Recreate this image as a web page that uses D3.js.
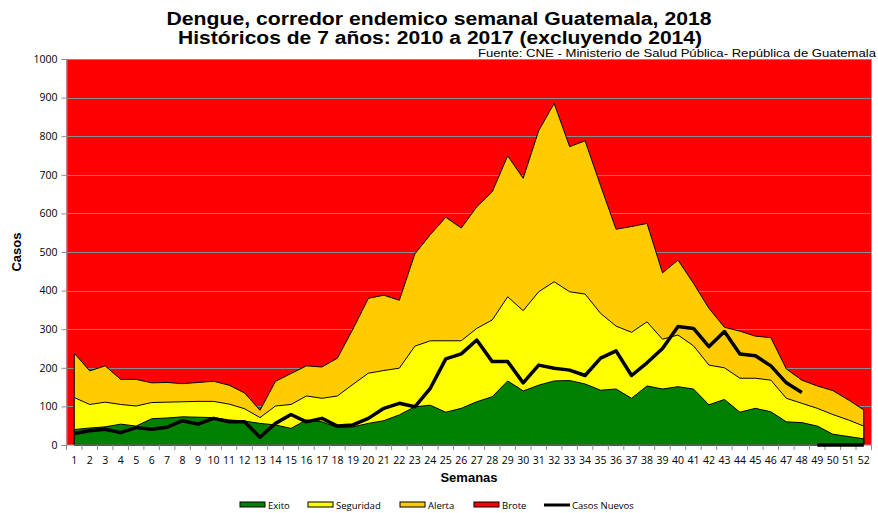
<!DOCTYPE html>
<html>
<head>
<meta charset="utf-8">
<script src="https://cdn.jsdelivr.net/npm/d3@7"></script>
<style>
  body { margin: 0; background: #fff; }
  svg { display: block; font-family: "Liberation Sans", Arial, sans-serif; }
  .tick text { font-family: "Open Sans", "Liberation Sans", sans-serif; }
</style>
</head>
<body>
<svg id="chart" width="878" height="513"></svg>
<script>
var weeks = d3.range(1, 53);

// umbrales del corredor endemico (casos)
var exito = [40,44,47,54,49,68,70,73,72,71,65,62,56,52,43,65,60,45,47,56,
  63,78,99,103,85,95,112,125,166,140,155,166,167,158,142,145,121,153,145,151,
  145,104,118,85,95,86,60,58,49,28,22,16];
var seguridad = [123,105,111,105,101,110,111,112,113,113,106,94,71,101,105,127,121,127,157,186,
  193,199,256,270,270,270,302,324,384,348,397,423,397,391,341,308,292,319,274,285,
  257,207,200,173,173,168,121,108,95,79,65,49];
var alerta = [238,192,205,170,170,161,162,159,162,165,155,135,90,165,185,205,202,225,300,380,
  388,375,495,545,590,562,617,656,749,691,814,885,773,788,672,559,566,574,446,479,
  419,354,305,295,282,278,197,168,153,141,117,91];
var brote = 1000;

// casos nuevos 2018
var casosNuevos = [30,37,41,32,45,41,46,63,54,69,60,60,20,56,79,60,69,49,52,69,
  95,108,99,147,223,236,272,216,216,161,207,199,194,180,225,244,180,213,250,307,
  302,255,294,236,231,205,161,136,0,0,0,0];

var yTicks = d3.range(0, 1001, 100);

var svg = d3.select('#chart');
var margin = {left: 66.5, right: 6.5, top: 59, bottom: 68};
var W = 878, H = 513;

var x = d3.scaleBand()
  .domain(weeks)
  .range([margin.left, W - margin.right]);
var cx = d => x(d) + x.bandwidth() / 2;

var y = d3.scaleLinear()
  .domain([0, 1000])
  .range([H - margin.bottom, margin.top]);

// titulo
svg.append('text')
  .attr('x', 439).attr('y', 25)
  .attr('text-anchor', 'middle')
  .attr('textLength', 545).attr('lengthAdjust', 'spacingAndGlyphs')
  .style('font-weight', 'bold').style('font-size', '18px')
  .text('Dengue, corredor endemico semanal Guatemala, 2018');
svg.append('text')
  .attr('x', 440).attr('y', 44)
  .attr('text-anchor', 'middle')
  .attr('textLength', 524).attr('lengthAdjust', 'spacingAndGlyphs')
  .style('font-weight', 'bold').style('font-size', '18px')
  .text('Históricos  de 7 años: 2010 a 2017 (excluyendo 2014)');
svg.append('text')
  .attr('x', 876).attr('y', 57)
  .attr('text-anchor', 'end')
  .attr('textLength', 398).attr('lengthAdjust', 'spacingAndGlyphs')
  .style('font-size', '11.5px')
  .text('Fuente: CNE - Ministerio de Salud Pública- República de Guatemala');

// brote = fondo rojo
svg.append('rect')
  .attr('x', margin.left)
  .attr('y', y(brote))
  .attr('width', W - margin.right - margin.left)
  .attr('height', y(0) - y(brote))
  .style('fill', '#ff0000');

// grid
svg.append('g').selectAll('line')
  .data(yTicks.filter(d => d > 0))
  .enter().append('line')
  .attr('x1', margin.left).attr('x2', W - margin.right)
  .attr('y1', d => Math.round(y(d)) + 0.5).attr('y2', d => Math.round(y(d)) + 0.5)
  .style('stroke', '#8c8c8c').style('stroke-width', 1);

var series = [
  {name: 'Alerta', values: alerta, color: '#ffcc00'},
  {name: 'Seguridad', values: seguridad, color: '#ffff00'},
  {name: 'Exito', values: exito, color: '#008000'}
];

var area = d3.area()
  .x((d, i) => cx(weeks[i]))
  .y0(y(0))
  .y1(d => y(d));

svg.append('g').selectAll('path')
  .data(series)
  .enter().append('path')
  .attr('d', d => area(d.values) + 'Z')
  .style('fill', d => d.color)
  .style('stroke', '#000')
  .style('stroke-width', 1)
  .style('stroke-linejoin', 'miter');

// casos nuevos: dos tramos (valores > 0 y ceros finales)
var line = d3.line()
  .x(d => cx(d.w))
  .y(d => y(d.v));
var pts = casosNuevos.map((v, i) => ({w: weeks[i], v: v}));
var tramos = [pts.filter(d => d.v > 0), pts.filter(d => d.v === 0)];

// ejes
var yAxis = svg.append('g')
  .attr('transform', 'translate(' + margin.left + ',0)')
  .call(d3.axisLeft(y).tickValues(yTicks).tickFormat(d3.format('d')).tickSize(5).tickPadding(4));
yAxis.select('.domain').style('stroke', '#8c8c8c');
yAxis.selectAll('.tick line').style('stroke', '#8c8c8c');
yAxis.selectAll('.tick text').style('font-size', '10.5px').style('fill', '#000');

var xAxis = svg.append('g')
  .attr('transform', 'translate(0,' + y(0) + ')');
xAxis.append('line')
  .attr('x1', margin.left).attr('x2', W - margin.right)
  .style('stroke', '#8c8c8c');
xAxis.selectAll('line.tk')
  .data(weeks.concat([53]))
  .enter().append('line')
  .attr('class', 'tk')
  .attr('x1', d => d <= 52 ? x(d) : W - margin.right)
  .attr('x2', d => d <= 52 ? x(d) : W - margin.right)
  .attr('y1', 0).attr('y2', 5)
  .style('stroke', '#8c8c8c');
xAxis.selectAll('text')
  .data(weeks)
  .enter().append('text')
  .attr('x', d => cx(d))
  .attr('y', 19)
  .attr('text-anchor', 'middle')
  .style('font-family', '"Open Sans", "Liberation Sans", sans-serif')
  .style('font-size', '10.5px')
  .text(d => d);

svg.append('g').selectAll('path')
  .data(tramos)
  .enter().append('path')
  .attr('d', line)
  .style('fill', 'none')
  .style('stroke', '#000')
  .style('stroke-width', 3.5)
  .style('stroke-linejoin', 'round');

// titulos de ejes
svg.append('text')
  .attr('x', 469).attr('y', 482)
  .attr('text-anchor', 'middle')
  .style('font-weight', 'bold').style('font-size', '13px')
  .text('Semanas');
svg.append('text')
  .attr('transform', 'translate(21,252) rotate(-90)')
  .attr('text-anchor', 'middle')
  .style('font-weight', 'bold').style('font-size', '13px')
  .text('Casos');

// leyenda
var legend = [
  {name: 'Exito', color: '#008000', x: 240},
  {name: 'Seguridad', color: '#ffff00', x: 308},
  {name: 'Alerta', color: '#ffcc00', x: 400},
  {name: 'Brote', color: '#ff0000', x: 474},
  {name: 'Casos Nuevos', color: null, x: 544}
];
var lg = svg.append('g').selectAll('g')
  .data(legend)
  .enter().append('g')
  .attr('transform', d => 'translate(' + d.x + ',505)');
lg.filter(d => d.color)
  .append('rect')
  .attr('x', 0).attr('y', -3).attr('width', 25).attr('height', 5)
  .style('fill', d => d.color)
  .style('stroke', '#000').style('stroke-width', 1);
lg.filter(d => !d.color)
  .append('line')
  .attr('x1', 0).attr('x2', 26).attr('y1', 0).attr('y2', 0)
  .style('stroke', '#000').style('stroke-width', 3);
lg.append('text')
  .attr('x', 28).attr('y', 3.5)
  .style('font-family', '"Open Sans", "Liberation Sans", sans-serif')
  .style('font-size', '9.5px')
  .text(d => d.name);
</script>
</body>
</html>
